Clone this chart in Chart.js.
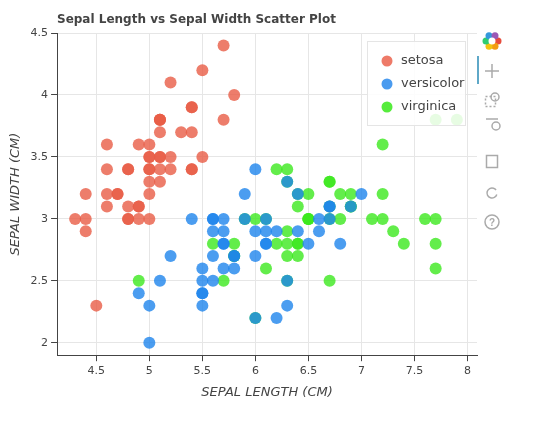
<!DOCTYPE html>
<html><head><meta charset="utf-8">
<script src="https://cdn.jsdelivr.net/npm/chart.js@4"></script>
<style>body{margin:0;background:#fff}#wrap{position:relative;width:539px;height:428px}</style>
</head><body><div id="wrap"><canvas id="c" width="539" height="428"></canvas></div>
<script>
const setosa = [[5.1,3.5],[4.9,3.0],[4.7,3.2],[4.6,3.1],[5.0,3.6],[5.4,3.9],[4.6,3.4],[5.0,3.4],[4.4,2.9],[4.9,3.1],[5.4,3.7],[4.8,3.4],[4.8,3.0],[4.3,3.0],[5.8,4.0],[5.7,4.4],[5.4,3.9],[5.1,3.5],[5.7,3.8],[5.1,3.8],[5.4,3.4],[5.1,3.7],[4.6,3.6],[5.1,3.3],[4.8,3.4],[5.0,3.0],[5.0,3.4],[5.2,3.5],[5.2,3.4],[4.7,3.2],[4.8,3.1],[5.4,3.4],[5.2,4.1],[5.5,4.2],[4.9,3.1],[5.0,3.2],[5.5,3.5],[4.9,3.6],[4.4,3.0],[5.1,3.4],[5.0,3.5],[4.5,2.3],[4.4,3.2],[5.0,3.5],[5.1,3.8],[4.8,3.0],[5.1,3.8],[4.6,3.2],[5.3,3.7],[5.0,3.3]];
const versicolor = [[7.0,3.2],[6.4,3.2],[6.9,3.1],[5.5,2.3],[6.5,2.8],[5.7,2.8],[6.3,3.3],[4.9,2.4],[6.6,2.9],[5.2,2.7],[5.0,2.0],[5.9,3.0],[6.0,2.2],[6.1,2.9],[5.6,2.9],[6.7,3.1],[5.6,3.0],[5.8,2.7],[6.2,2.2],[5.6,2.5],[5.9,3.2],[6.1,2.8],[6.3,2.5],[6.1,2.8],[6.4,2.9],[6.6,3.0],[6.8,2.8],[6.7,3.0],[6.0,2.9],[5.7,2.6],[5.5,2.4],[5.5,2.4],[5.8,2.7],[6.0,2.7],[5.4,3.0],[6.0,3.4],[6.7,3.1],[6.3,2.3],[5.6,3.0],[5.5,2.5],[5.5,2.6],[6.1,3.0],[5.8,2.6],[5.0,2.3],[5.6,2.7],[5.7,3.0],[5.7,2.9],[6.2,2.9],[5.1,2.5],[5.7,2.8]];
const virginica = [[6.3,3.3],[5.8,2.7],[7.1,3.0],[6.3,2.9],[6.5,3.0],[7.6,3.0],[4.9,2.5],[7.3,2.9],[6.7,2.5],[7.2,3.6],[6.5,3.2],[6.4,2.7],[6.8,3.0],[5.7,2.5],[5.8,2.8],[6.4,3.2],[6.5,3.0],[7.7,3.8],[7.7,2.6],[6.0,2.2],[6.9,3.2],[5.6,2.8],[7.7,2.8],[6.3,2.7],[6.7,3.3],[7.2,3.2],[6.2,2.8],[6.1,3.0],[6.4,2.8],[7.2,3.0],[7.4,2.8],[7.9,3.8],[6.4,2.8],[6.3,2.8],[6.1,2.6],[7.7,3.0],[6.3,3.4],[6.4,3.1],[6.0,3.0],[6.9,3.1],[6.7,3.1],[6.9,3.1],[5.8,2.7],[6.8,3.2],[6.7,3.3],[6.7,3.0],[6.3,2.5],[6.5,3.0],[6.2,3.4],[5.9,3.0]];
const xTicks = [4.5,5,5.5,6,6.5,7,7.5,8];
const yTicks = [2,2.5,3,3.5,4,4.5];

const species = [
  { label: 'setosa', data: setosa, color: 'rgba(232,92,70,0.8)', solid: '#ee7a68' },
  { label: 'versicolor', data: versicolor, color: 'rgba(30,132,236,0.8)', solid: '#4a9bef' },
  { label: 'virginica', data: virginica, color: 'rgba(60,232,30,0.8)', solid: '#56ec3c' },
];

const overlay = {
  id: 'overlay',
  afterDraw(chart) {
    const g = chart.ctx;
    // legend
    g.save();
    g.fillStyle = 'rgba(255,255,255,0.85)';
    g.fillRect(367, 41, 98, 84);
    g.strokeStyle = '#e5e5e5'; g.lineWidth = 1;
    g.strokeRect(367.5, 41.5, 98, 84);
    g.font = '13px "DejaVu Sans", sans-serif';
    g.textBaseline = 'middle';
    species.forEach((s, i) => {
      const y = 61 + i * 23;
      g.fillStyle = s.solid;
      g.beginPath(); g.arc(387, y, 5.5, 0, Math.PI * 2); g.fill();
      g.fillStyle = '#444';
      g.fillText(s.label, 401, y);
    });
    // title
    g.font = 'bold 12px "DejaVu Sans", sans-serif';
    g.fillStyle = '#444'; g.textBaseline = 'alphabetic';
    g.fillText('Sepal Length vs Sepal Width Scatter Plot', 57, 23);
    // toolbar
    const cols = ['#e74c3c','#f39c12','#f1c40f','#2ecc71','#3498db','#9b59b6'];
    cols.forEach((c, i) => {
      const a = i * Math.PI / 3;
      g.fillStyle = c;
      g.beginPath(); g.arc(492 + 6 * Math.cos(a), 41 + 6 * Math.sin(a), 3.5, 0, Math.PI * 2); g.fill();
    });
    g.fillStyle = '#fff'; g.beginPath(); g.arc(492, 41, 3.5, 0, Math.PI * 2); g.fill();
    g.fillStyle = '#5fa8c8'; g.fillRect(477, 56, 2, 28);
    g.strokeStyle = '#aaa'; g.lineWidth = 1.5;
    g.beginPath(); g.moveTo(485, 71); g.lineTo(499, 71); g.moveTo(492, 64); g.lineTo(492, 78); g.stroke();
    g.setLineDash([2, 2]); g.strokeRect(485.5, 96.5, 10, 10); g.setLineDash([]);
    g.beginPath(); g.arc(495, 97, 4, 0, Math.PI * 2); g.stroke();
    g.beginPath(); g.moveTo(486, 119); g.lineTo(498, 119); g.stroke();
    g.beginPath(); g.arc(496, 126, 4, 0, Math.PI * 2); g.stroke();
    g.strokeRect(486.5, 155.5, 11, 12);
    g.beginPath(); g.arc(492, 193, 5, 0.3, Math.PI * 1.8); g.stroke();
    g.beginPath(); g.arc(492, 222, 7, 0, Math.PI * 2); g.stroke();
    g.fillStyle = '#aaa'; g.font = 'bold 10px sans-serif'; g.textAlign = 'center'; g.textBaseline = 'middle';
    g.fillText('?', 492, 223);
    g.restore();
  }
};

new Chart(document.getElementById('c'), {
  type: 'scatter',
  data: {
    datasets: species.map(s => ({
      label: s.label, data: s.data.map(p => ({ x: p[0], y: p[1] })),
      backgroundColor: s.color, borderWidth: 0, pointRadius: 6, pointHoverRadius: 6
    }))
  },
  options: {
    responsive: false, animation: false, events: [],
    layout: { padding: { top: 33, right: 62, left: 4, bottom: 24 } },
    plugins: { legend: { display: false }, tooltip: { enabled: false } },
    scales: {
      x: {
        type: 'linear', min: 4.13, max: 8.09,
        afterBuildTicks: ax => { ax.ticks = xTicks.map(v => ({ value: v })); },
        grid: { color: '#e6e6e6', tickColor: '#444', tickLength: 6 },
        border: { color: '#444' },
        ticks: { color: '#444', font: { size: 11, family: 'DejaVu Sans' }, callback: v => v },
        title: { display: true, text: 'SEPAL LENGTH (CM)', color: '#444', font: { size: 13, style: 'italic', family: 'DejaVu Sans' } }
      },
      y: {
        type: 'linear', min: 1.9, max: 4.5,
        afterBuildTicks: ax => { ax.ticks = yTicks.map(v => ({ value: v })); },
        grid: { color: '#e6e6e6', tickColor: '#444', tickLength: 6 },
        border: { color: '#444' },
        ticks: { color: '#444', font: { size: 11, family: 'DejaVu Sans' }, callback: v => v },
        title: { display: true, text: 'SEPAL WIDTH (CM)', color: '#444', font: { size: 13, style: 'italic', family: 'DejaVu Sans' } }
      }
    }
  },
  plugins: [overlay]
});
</script></body></html>
